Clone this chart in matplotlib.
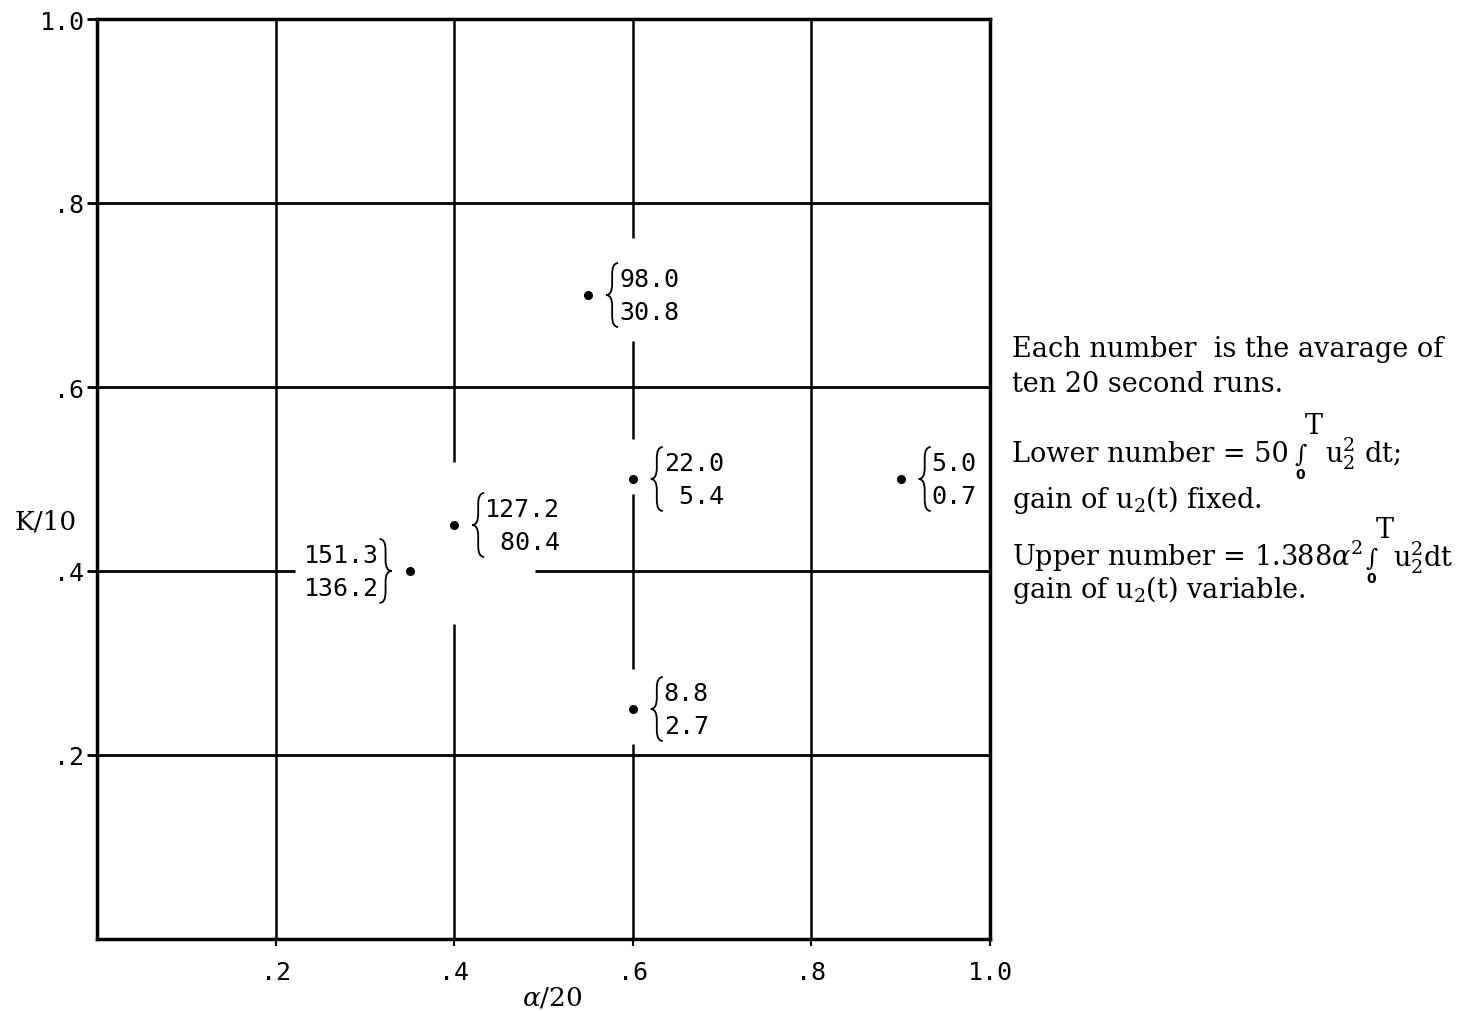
import matplotlib.pyplot as plt
from matplotlib.path import Path
from matplotlib.patches import PathPatch
import matplotlib.transforms as mtransforms

plt.rcParams['mathtext.fontset'] = 'dejavuserif'

# measured points: alpha/20, K/10 and the two averages at each point
alpha_pts = [0.55, 0.60, 0.60, 0.90, 0.40, 0.35]
k_pts = [0.70, 0.50, 0.25, 0.50, 0.45, 0.40]
upper_vals = [98.0, 22.0, 8.8, 5.0, 127.2, 151.3]
lower_vals = [30.8, 5.4, 2.7, 0.7, 80.4, 136.2]
label_side = ["right", "right", "right", "right", "right", "left"]

tick_vals = [0.2, 0.4, 0.6, 0.8, 1.0]
tick_labels = [".2", ".4", ".6", ".8", "1.0"]

# grid lines, broken where the labels sit
v_grid = {
    0.2: [(0.0, 1.0)],
    0.4: [(0.0, 0.342), (0.518, 1.0)],
    0.6: [(0.0, 0.212), (0.293, 0.484), (0.543, 0.65), (0.762, 1.0)],
    0.8: [(0.0, 1.0)],
}
h_grid = {
    0.2: [(0.0, 1.0)],
    0.4: [(0.0, 0.222), (0.49, 1.0)],
    0.6: [(0.0, 1.0)],
    0.8: [(0.0, 1.0)],
}

MONO = "DejaVu Sans Mono"
SERIF = ["DejaVu Serif", "DejaVu Sans"]
NOTE_SIZE = 19.5

W, H = 1479, 1012
fig = plt.figure(figsize=(W / 100, H / 100), dpi=100)
ax = fig.add_axes([97 / W, 72 / H, 893 / W, 920 / H])
ax.set_xlim(0, 1)
ax.set_ylim(0, 1)

for s in ax.spines.values():
    s.set_linewidth(2.5)

for x, segs in v_grid.items():
    for y0, y1 in segs:
        ax.plot([x, x], [y0, y1], color="black", lw=1.8, solid_capstyle="butt")
for y, segs in h_grid.items():
    for x0, x1 in segs:
        ax.plot([x0, x1], [y, y], color="black", lw=2.0, solid_capstyle="butt")

ax.set_xticks(tick_vals)
ax.set_xticklabels(tick_labels, family=MONO, fontsize=18)
ax.set_yticks(tick_vals)
ax.set_yticklabels(tick_labels, family=MONO, fontsize=18)
ax.tick_params(axis="y", direction="out", length=7, width=2, pad=2)
ax.tick_params(axis="x", direction="out", length=5, width=1.5, pad=10)

fig.text(15 / W, 1 - 522 / H, "K/10", family=SERIF, fontsize=19,
         ha="left", va="center")
fig.text(552 / W, 1 - 998 / H, r"$\alpha$/20", family=SERIF, fontsize=19,
         ha="center", va="center")


def brace(x, y, side, dx=18, h=64, w=12):
    s = 1 if side == "right" else -1
    hh, r = h / 2, 11
    pts = [(w, hh), (w / 2, hh), (w / 2, hh - r), (w / 2, r), (w / 2, 0),
           (0, 0), (w / 2, 0), (w / 2, -r), (w / 2, -hh + r), (w / 2, -hh),
           (w, -hh)]
    codes = [Path.MOVETO, Path.CURVE3, Path.CURVE3, Path.LINETO, Path.CURVE3,
             Path.CURVE3, Path.CURVE3, Path.CURVE3, Path.LINETO, Path.CURVE3,
             Path.CURVE3]
    verts = [(s * (dx + u) / 100, v / 100) for u, v in pts]
    trans = fig.dpi_scale_trans + mtransforms.ScaledTranslation(x, y, ax.transData)
    ax.add_patch(PathPatch(Path(verts, codes), transform=trans, fill=False,
                           lw=1.3, color="black", clip_on=False))


ax.plot(alpha_pts, k_pts, "o", color="black", markersize=5.5, clip_on=False)

for x, y, up, lo, side in zip(alpha_pts, k_pts, upper_vals, lower_vals, label_side):
    a, b = f"{up:.1f}", f"{lo:.1f}"
    n = max(len(a), len(b))
    a, b = a.rjust(n), b.rjust(n)
    brace(x, y, side)
    off = 31 if side == "right" else -31
    ha = "left" if side == "right" else "right"
    for txt, dy in ((a, 16), (b, -17)):
        ax.annotate(txt, xy=(x, y), xytext=(off, dy), textcoords="offset pixels",
                    ha=ha, va="center", family=MONO, fontsize=18,
                    annotation_clip=False)

# note on the right
x0 = 1012 / W


def line(y_px, s):
    return fig.text(x0, 1 - y_px / H, s, family=SERIF, fontsize=NOTE_SIZE,
                    ha="left", va="baseline")


def after(prev, y_px, s, gap=0, **kw):
    kw.setdefault("family", SERIF)
    kw.setdefault("fontsize", NOTE_SIZE)
    return ax.annotate(s, xy=(1, 1 - y_px / H), xycoords=(prev, "figure fraction"),
                       xytext=(gap, 0), textcoords="offset pixels",
                       ha="left", va="baseline", annotation_clip=False, **kw)


def integral(prev, y_px, gap=6):
    # small integral sign with T set high on the right and 0 below it
    t = after(prev, y_px, "\u222b", gap=gap, fontsize=17)
    top = ax.annotate("T", xy=(1, 1), xycoords=t, xytext=(-2, 4),
                      textcoords="offset pixels", ha="left", va="bottom",
                      family=SERIF, fontsize=NOTE_SIZE, annotation_clip=False)
    ax.annotate("0", xy=(0.45, 0), xycoords=t, xytext=(0, -1),
                textcoords="offset pixels", ha="center", va="top",
                family="DejaVu Sans", fontsize=10, weight="bold",
                annotation_clip=False)
    return top


line(357, "Each number  is the avarage of")
line(392, "ten 20 second runs.")
t = line(462, "Lower number = 50")
t = integral(t, 462)
after(t, 462, r"u$_2^2$ dt;", gap=2)
line(508, r"gain of u$_2$(t) fixed.")
t = line(566, r"Upper number = 1.388$\alpha^2$")
t = integral(t, 566, gap=2)
after(t, 566, r"u$_2^2$dt", gap=0)
line(598, r"gain of u$_2$(t) variable.")

fig.savefig("out.png", dpi=100)
